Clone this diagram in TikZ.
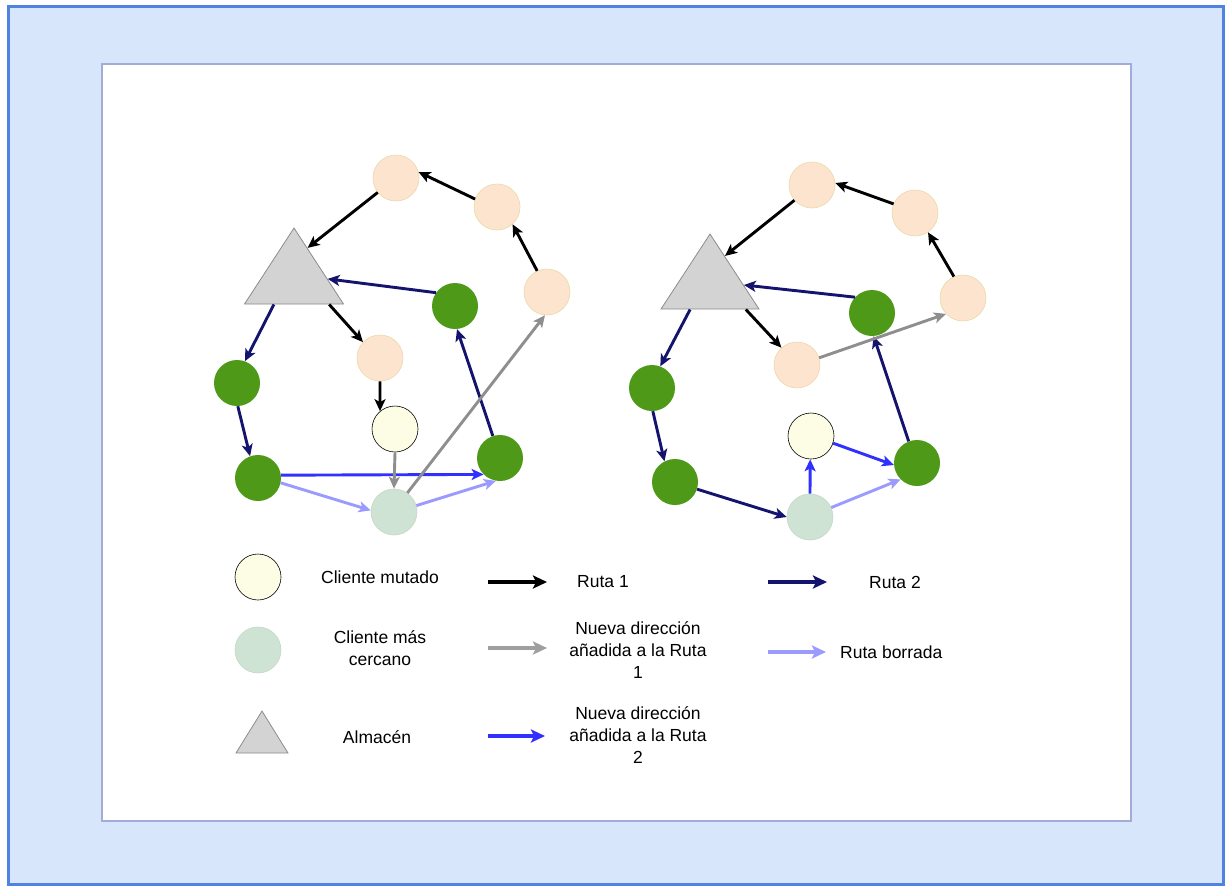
\documentclass[tikz,border=0pt]{standalone}
\usepackage{fontspec}
\setmainfont{Liberation Sans}
\usetikzlibrary{arrows.meta,shapes.geometric,calc}

\definecolor{frameblue}{HTML}{4F82E3}
\definecolor{framefill}{HTML}{D7E6FA}
\definecolor{panelline}{HTML}{A3ACD8}
\definecolor{peach}{HTML}{FCE4CF}
\definecolor{peachline}{HTML}{EBD9A8}
\definecolor{leaf}{HTML}{4E9A18}
\definecolor{cream}{HTML}{FDFDE6}
\definecolor{mint}{HTML}{CFE3D5}
\definecolor{mintline}{HTML}{C2D8C6}
\definecolor{depot}{HTML}{D3D3D3}
\definecolor{depotline}{HTML}{8C8C8C}
\definecolor{routetwo}{HTML}{14146E}
\definecolor{addone}{HTML}{8E8E8E}
\definecolor{addtwo}{HTML}{3030FF}
\definecolor{erased}{HTML}{9A9AFF}

\begin{document}
\begin{tikzpicture}[x=1pt,y=-1pt,
  client/.style={circle, minimum size=46pt, inner sep=0pt},
  orig/.style={client, fill=peach, draw=peachline, line width=0.6pt},
  moved/.style={client, fill=leaf},
  mutated/.style={client, fill=cream, draw=black, line width=0.6pt},
  nearest/.style={client, fill=mint, draw=mintline, line width=0.6pt},
  depotnode/.style={isosceles triangle, isosceles triangle stretches,
    shape border rotate=90, inner sep=0pt, fill=depot, draw=depotline,
    line width=0.8pt, anchor=apex},
  link/.style={line width=2.9pt, -{Stealth[length=12pt,width=11pt,inset=3pt]}},
  r1/.style={link, draw=black},
  r2/.style={link, draw=routetwo},
  a1/.style={link, draw=addone},
  a2/.style={link, draw=addtwo},
  del/.style={link, draw=erased},
  lbl/.style={font=\fontsize{17.5}{22}\selectfont, align=center, inner sep=0pt},
  key/.style={line width=3.4pt, -{Stealth[length=14pt,width=13pt,inset=3pt]}}
]
\useasboundingbox (0,0) rectangle (1225,886);

% frame and panel
\fill[white] (0,0) rectangle (1225,886);
\filldraw[fill=framefill, draw=frameblue, line width=3pt] (8,6) rectangle (1223,884);
\filldraw[fill=white, draw=panelline, line width=1.5pt] (102,64) rectangle (1131,821);

% ---------- before the mutation ----------
\node[depotnode, minimum width=99pt, minimum height=76pt] (T1) at (294,227) {};
\node[orig] (pa) at (396,178) {};
\node[orig] (pb) at (497,207) {};
\node[orig] (pc) at (547,292) {};
\node[orig] (pd) at (380,358) {};
\node[moved] (ga) at (455,306) {};
\node[moved] (gb) at (237,383) {};
\node[moved] (gc) at (258,478) {};
\node[moved] (gd) at (500,458) {};
\node[mutated] (m1) at (395,429) {};
\node[nearest] (c1) at (394,512) {};

\draw[r1] (pa) -- ($(T1.apex)!0.27!(T1.right corner)$);
\draw[r1] (pb.160) -- (pa.15);
\draw[r1] (pc.115) -- (pb.-48);
\draw[r1] ($(T1.right corner)!0.15!(T1.left corner)$) -- (pd.137);
\draw[r1] (pd.-90) -- (m1.130);
\draw[r2] (ga.145) -- ($(T1.apex)!0.67!(T1.right corner)$);
\draw[r2] ($(T1.left corner)!0.3!(T1.right corner)$) -- (gb.70);
\draw[r2] (gb.-88) -- (gc.110);
\draw[r2] (gd.108) -- (ga.-85);
\draw[a2] (gc.7) -- (gd.-135);
\draw[del] (gc.-12) -- (c1.176);
\draw[del] (c1.16) -- (gd.-100);
\draw[a1] (m1.-90) -- (c1.90);
\draw[a1] (c1.55) -- (pc.-95);

% ---------- after the mutation ----------
\node[depotnode, minimum width=98pt, minimum height=75pt] (T2) at (710,233) {};
\node[orig] (qa) at (812,185) {};
\node[orig] (qb) at (915,213) {};
\node[orig] (qc) at (963,298) {};
\node[orig] (qd) at (797,365) {};
\node[moved] (ha) at (872,313) {};
\node[moved] (hb) at (652,388) {};
\node[moved] (hc) at (675,482) {};
\node[moved] (hd) at (917,463) {};
\node[mutated] (m2) at (811,436) {};
\node[nearest] (c2) at (810,517) {};

\draw[r1] (qa.-139) -- ($(T2.apex)!0.3!(T2.right corner)$);
\draw[r1] (qb.157) -- (qa.5);
\draw[r1] (qc.113) -- (qb.-56);
\draw[r1] ($(T2.right corner)!0.14!(T2.left corner)$) -- (qd.132);
\draw[r2] (ha.137) -- ($(T2.apex)!0.68!(T2.right corner)$);
\draw[r2] ($(T2.left corner)!0.3!(T2.right corner)$) -- (hb.69);
\draw[r2] (hb.-88) -- (hc.117);
\draw[r2] (hc.-18) -- (c2.180);
\draw[r2] (hd.111) -- (ha.-86);
\draw[a2] (c2.90) -- (m2.-92);
\draw[a2] (m2.-18) -- (hd.-175);
\draw[del] (c2.24) -- (hd.-135);
\draw[a1] (qd.18) -- (qc.-137);

% ---------- legend ----------
\node[mutated] (km) at (258,577) {};
\node[nearest] (kn) at (258,650) {};
\node[depotnode, minimum width=52pt, minimum height=42pt] (kt) at (262,710) {};
\node[lbl] (tm) at (380,577) {Cliente mutado};
\node[lbl] (tn) at (380,648) {Cliente más\\cercano};
\node[lbl] (tt) at (377,737) {Almacén};

\coordinate (k1a) at (488,582); \coordinate (k1b) at (547,582);
\coordinate (k2a) at (488,648); \coordinate (k2b) at (547,648);
\coordinate (k3a) at (488,736); \coordinate (k3b) at (545,736);
\coordinate (k4a) at (768,582); \coordinate (k4b) at (827,582);
\coordinate (k5a) at (768,652); \coordinate (k5b) at (826,652);
\draw[key, draw=black] (k1a) -- (k1b);
\draw[key, draw=addone!85] (k2a) -- (k2b);
\draw[key, draw=addtwo] (k3a) -- (k3b);
\draw[key, draw=routetwo] (k4a) -- (k4b);
\draw[key, draw=erased] (k5a) -- (k5b);
\node[lbl] (t1) at (603,582) {Ruta 1};
\node[lbl] (t2) at (638,650) {Nueva dirección\\añadida a la Ruta\\1};
\node[lbl] (t3) at (638,735) {Nueva dirección\\añadida a la Ruta\\2};
\node[lbl] (t4) at (895,582) {Ruta 2};
\node[lbl, anchor=west] (t5) at (840,652) {Ruta borrada};
\end{tikzpicture}
\end{document}
